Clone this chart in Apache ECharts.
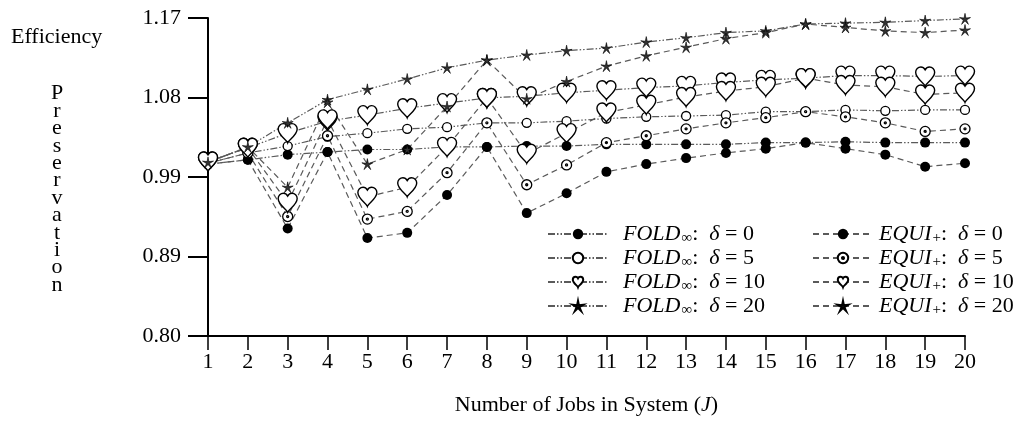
<!DOCTYPE html>
<html><head><meta charset="utf-8">
<script src="https://cdn.jsdelivr.net/npm/echarts@6/dist/echarts.min.js"></script>
<style>html,body{margin:0;padding:0;background:#fff}#c{width:1033px;height:432px}</style>
</head><body><div id="c"></div>
<script>
const jobs = [1,2,3,4,5,6,7,8,9,10,11,12,13,14,15,16,17,18,19,20];
const yTickLabels = ['0.80','0.89','0.99','1.08','1.17'];
const fold0  = [1.000,1.005,1.011,1.014,1.017,1.017,1.020,1.020,1.021,1.021,1.023,1.023,1.023,1.023,1.025,1.025,1.026,1.025,1.025,1.025];
const fold5  = [1.001,1.013,1.021,1.032,1.036,1.041,1.043,1.048,1.048,1.050,1.053,1.055,1.056,1.057,1.061,1.061,1.063,1.062,1.063,1.063];
const fold10 = [1.003,1.019,1.036,1.050,1.057,1.065,1.071,1.077,1.079,1.083,1.086,1.089,1.091,1.095,1.098,1.100,1.103,1.103,1.102,1.103];
const fold20 = [1.002,1.020,1.048,1.075,1.087,1.099,1.112,1.121,1.127,1.132,1.135,1.142,1.147,1.153,1.155,1.163,1.164,1.165,1.167,1.169];
const equi0  = [1.000,1.005,0.925,1.014,0.914,0.920,0.964,1.020,0.943,0.966,0.991,1.000,1.007,1.013,1.018,1.025,1.018,1.011,0.997,1.001];
const equi5  = [1.001,1.013,0.939,1.033,0.936,0.945,0.990,1.048,0.976,0.999,1.025,1.033,1.041,1.048,1.054,1.061,1.055,1.048,1.038,1.041];
const equi10 = [1.003,1.019,0.955,1.052,0.962,0.973,1.020,1.077,1.012,1.036,1.060,1.069,1.078,1.085,1.090,1.100,1.092,1.090,1.081,1.083];
const equi20 = [1.002,1.020,0.973,1.072,1.000,1.017,1.067,1.121,1.076,1.096,1.114,1.126,1.136,1.146,1.153,1.163,1.159,1.155,1.153,1.156];

const FONT = 'Liberation Serif';
const FS = 22;
const HEART = 'path://M12,22 C11,19 2,14 2,7.5 C2,4.5 4.5,2 7.5,2 C9.5,2 11,3.2 12,5 C13,3.2 14.5,2 16.5,2 C19.5,2 22,4.5 22,7.5 C22,14 13,19 12,22 Z';
const STAR = 'path://M12,1 L13.8,9.5 L22.46,8.60 L14.9,12.9 L18.47,20.90 L12,15 L5.53,20.90 L9.1,12.9 L1.54,8.60 L10.2,9.5 Z';
const DOTC = 'path://M12,2 A10,10 0 1,1 11.99,2 Z M12,10 A2,2 0 1,0 12.01,10 Z';

const foldDash = [7,2,1.5,2,1.5,2];
const equiDash = [6,4];

function mk(name, data, symbol, size, fill, dash, bw){
  return {
    name, type:'line', data: jobs.map((j,i)=>[j,data[i]]),
    symbol, symbolSize:size, showSymbol:true,
    lineStyle:{color:'#5a5a5a', width:1.2, type:dash},
    itemStyle:{color:fill, borderColor:'#000', borderWidth: bw},
    emphasis:{disabled:true}, animation:false
  };
}
const series = [
  mk('FOLD0', fold0, 'circle', 10, '#000', foldDash, 0),
  mk('FOLD5', fold5, 'circle', 9, '#fff', foldDash, 1.3),
  mk('FOLD10', fold10, HEART, 19, '#fff', foldDash, 1.4),
  mk('FOLD20', fold20, STAR, 11, '#333', foldDash, 0.6),
  mk('EQUI0', equi0, 'circle', 10, '#000', equiDash, 0),
  mk('EQUI5', equi5, DOTC, 10, '#fff', equiDash, 1.3),
  mk('EQUI10', equi10, HEART, 19, '#fff', equiDash, 1.4),
  mk('EQUI20', equi20, STAR, 11, '#333', equiDash, 0.6)
];

function makeRich(gap){
  return {
    g:{width:gap, lineHeight:24},
    it:{fontFamily:FONT, fontStyle:'italic', fontSize:FS, color:'#000', lineHeight:24},
    sub:{fontFamily:FONT, fontSize:15, color:'#000', lineHeight:15, padding:[9,0,0,1]},
    n:{fontFamily:FONT, fontSize:FS, color:'#000', lineHeight:24}
  };
}
function legendFmt(name){
  const isFold = name.startsWith('FOLD');
  const d = name.replace(/^(FOLD|EQUI)/,'');
  return (isFold ? '{g|}{it|FOLD}{sub|∞}' : '{g|}{it|EQUI}{sub|+}') + '{n|:  }{it|δ}{n| = ' + d + '}';
}
function legendAt(left, gap, names){
  return {
    left, top:217, orient:'vertical', itemWidth:60, itemHeight:13, itemGap:0,
    selectedMode:false, formatter:legendFmt, data:names,
    textStyle:{rich:makeRich(gap), fontFamily:FONT, fontSize:FS, color:'#000'}
  };
}

const chart = echarts.init(document.getElementById('c'));
chart.setOption({
  backgroundColor:'#fff',
  animation:false,
  grid:{left:208, right:68, top:18, bottom:96},
  xAxis:{
    type:'value', min:1, max:20, interval:1,
    name:'Number of Jobs in System ({i|J})', nameLocation:'middle', nameGap:58,
    nameTextStyle:{fontFamily:FONT, fontSize:FS, color:'#000',
      rich:{i:{fontFamily:FONT, fontStyle:'italic', fontSize:FS, color:'#000'}}},
    axisLine:{onZero:false, lineStyle:{color:'#000', width:2}},
    axisTick:{length:14, lineStyle:{color:'#000', width:1.5}},
    axisLabel:{margin:15, fontFamily:FONT, fontSize:FS, color:'#000'},
    splitLine:{show:false}
  },
  yAxis:{
    type:'value', min:0.80, max:1.17, interval:0.0925,
    axisLine:{show:true, lineStyle:{color:'#000', width:2}},
    axisTick:{show:true, length:20, lineStyle:{color:'#000', width:2}},
    axisLabel:{margin:27, fontFamily:FONT, fontSize:FS, color:'#000',
      formatter:(v,i)=>yTickLabels[i]},
    splitLine:{show:false}
  },
  legend:[
    legendAt(542, 10, series.slice(0,4).map(s=>s.name)),
    legendAt(807, 1, series.slice(4).map(s=>s.name))
  ],
  graphic:[
    {type:'text', left:11, top:26, style:{text:'Efficiency', font:FS+'px "Liberation Serif"', fill:'#000'}},
    {type:'text', x:57, y:85, style:{text:'Preservation'.split('').join('\n'), font:FS+'px "Liberation Serif"',
      fill:'#000', align:'center', lineHeight:17.4}}
  ],
  series
});
</script></body></html>
